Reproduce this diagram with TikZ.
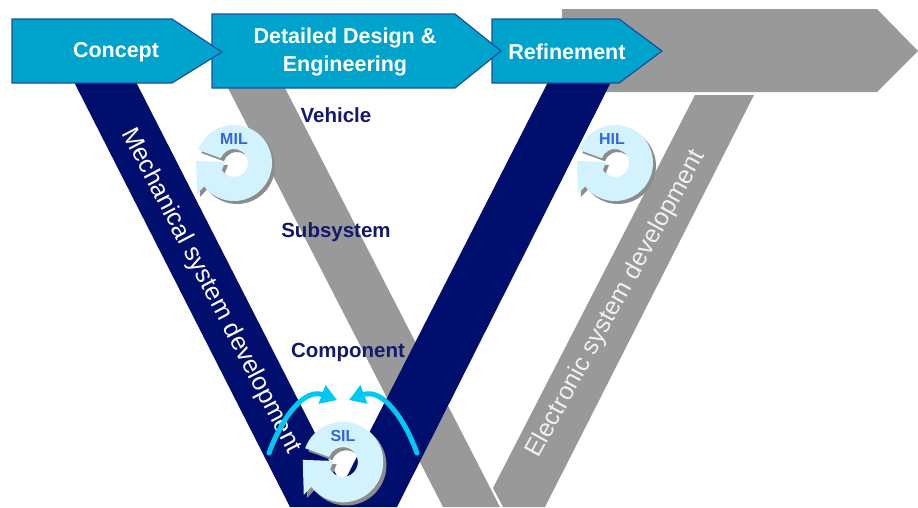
\documentclass[tikz,border=0pt]{standalone}
\usepackage{fontspec}
\setmainfont{Liberation Sans}
\usetikzlibrary{arrows.meta}
\definecolor{phaseblue}{HTML}{00A3CC}
\definecolor{phaseedge}{HTML}{1B4F9C}
\definecolor{mechnavy}{HTML}{000F6E}
\definecolor{elecgray}{HTML}{999999}
\definecolor{levelnavy}{HTML}{14196E}
\definecolor{loopfill}{HTML}{D2F3FD}
\definecolor{loopshade}{HTML}{8C8C8C}
\definecolor{looptext}{HTML}{3366DD}
\definecolor{swingcyan}{HTML}{00C8F5}
\newcommand{\loopoutline}{(200:38) arc[start angle=200,end angle=502,radius=38] -- (-37,31) -- (-38,-2) -- (-9,-1) -- (150:14) arc[start angle=150,end angle=-160,radius=14] -- cycle}
\tikzset{
    phase/.style={fill=phaseblue,draw=phaseedge,line width=1.2pt,line join=miter},
    phasetext/.style={text=white,font=\fontsize{21.5}{28}\selectfont\bfseries,align=center},
    leveltext/.style={text=levelnavy,font=\fontsize{20.5}{24}\selectfont\bfseries},
    armtext/.style={font=\fontsize{25}{30}\selectfont},
    looptag/.style={text=looptext,font=\fontsize{16}{18}\selectfont\bfseries},
    swing/.style={swingcyan,line width=5pt,line cap=round,-{Triangle[length=16pt,width=19pt]}},
    loopmark/.pic={
        \fill[loopshade,shift={(3,3)}] \loopoutline;
        \fill[loopfill] \loopoutline;
    }
}
\begin{document}
\begin{tikzpicture}[x=1pt,y=-1pt]
    \useasboundingbox (0,0) rectangle (918,507);
    \clip (0,0) rectangle (918,507);
    \fill[elecgray] (562,9) -- (877,9) -- (918,51) -- (877,92) -- (562,92) -- cycle;
    \fill[elecgray] (228,88) -- (285,88) -- (500,507) -- (443,507) -- cycle;
    \fill[elecgray] (695,95) -- (754,95) -- (545,507) -- (503,507) -- (493,488) -- cycle;
    \fill[mechnavy] (73,80) -- (135,80) -- (342,486) -- (549,80) -- (612,80) -- (397,507) -- (290,507) -- cycle;
    \draw[phase] (492,19) -- (619,19) -- (662,51) -- (619,83) -- (492,83) -- cycle;
    \draw[phase] (212,14) -- (455,14) -- (501,51) -- (455,88) -- (212,88) -- cycle;
    \draw[phase] (12,19) -- (172,19) -- (222,52) -- (172,83) -- (12,83) -- cycle;
    \pic at (234,163) {loopmark};
    \pic at (615,163) {loopmark};
    \pic[scale=1.06] at (343,462) {loopmark};
    \node[phasetext] (concept) at (116,52) {Concept};
    \node[phasetext] (detailed) at (345,52) {Detailed Design \&\\Engineering};
    \node[phasetext] (refinement) at (567,52) {Refinement};
    \node[leveltext] (vehicle) at (336,115) {Vehicle};
    \node[leveltext] (subsystem) at (336,232) {Subsystem};
    \node[leveltext] (component) at (348,352) {Component};
    \node[armtext,text=white,rotate=-62.5] (mechanical) at (211,291) {Mechanical system development};
    \node[armtext,text=white!94!black,rotate=61.2] (electronic) at (616,304) {Electronic system development};
    \node[looptag] (mil) at (234,139) {MIL};
    \node[looptag] (hil) at (612,139) {HIL};
    \node[looptag] (sil) at (343,436) {SIL};
    \coordinate (leftfoot) at (269,453);
    \coordinate (lefttip) at (337,400);
    \coordinate (rightfoot) at (417,453);
    \coordinate (righttip) at (349,400);
    \draw[swing] (leftfoot) .. controls (283,415) and (305,388) .. (lefttip);
    \draw[swing] (rightfoot) .. controls (403,415) and (381,388) .. (righttip);
\end{tikzpicture}
\end{document}
